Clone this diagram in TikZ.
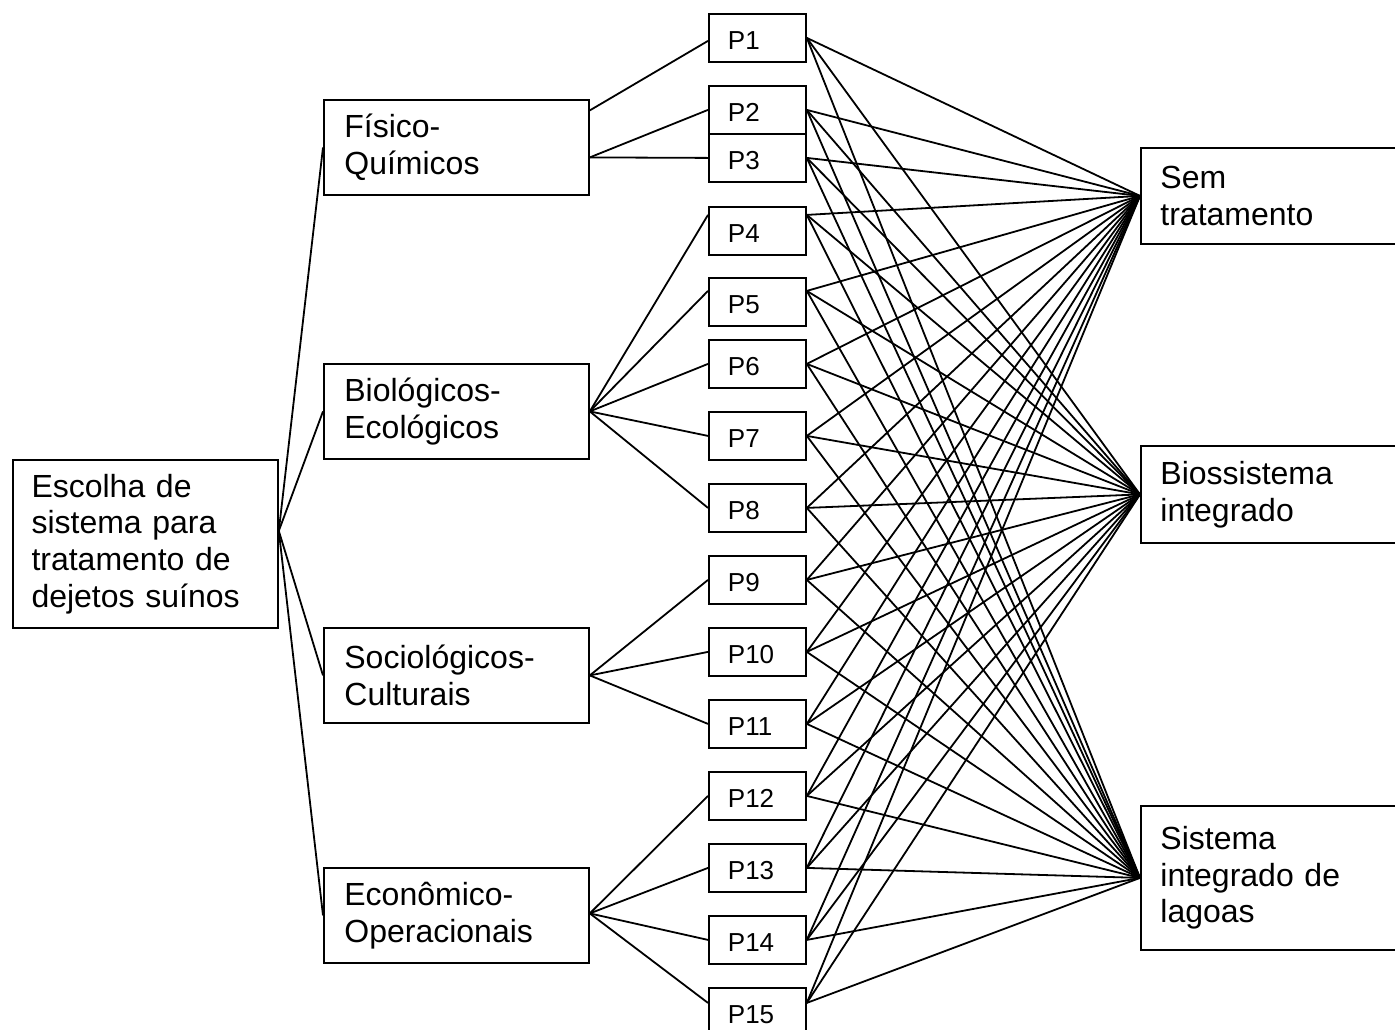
\documentclass[tikz,border=0pt]{standalone}
\usepackage{fontspec}
\setmainfont{Liberation Sans}
\begin{document}
\begin{tikzpicture}[x=1pt,y=-1pt,
  box/.style={draw, line width=1.8pt, rectangle, inner ysep=0pt, align=left, anchor=north west},
  big/.style={box, font=\fontsize{32}{36.7}\selectfont},
  catbox/.style={big, inner xsep=20.5pt, text width=224pt, minimum width=265pt, minimum height=95pt},
  resbox/.style={big, inner xsep=19.5pt, text width=251pt, minimum width=290pt},
  pbox/.style={box, font=\fontsize{26}{30}\selectfont, minimum width=97pt, minimum height=48pt,
    text width=59pt, inner xsep=19pt, text height=22.5pt, text depth=0pt},
  link/.style={line width=1.8pt}]
\useasboundingbox (0,0) rectangle (1395,1029);
\clip (0,0) rectangle (1395,1029);

% root
\node[big, inner xsep=18.6pt, text width=227.8pt, minimum width=265pt, minimum height=168pt]
  (root) at (12,459) {Escolha de\\sistema para\\tratamento de\\dejetos suínos};

% categories
\node[catbox] (fq) at (323,99)  {Físico-\\Químicos};
\node[catbox] (be) at (323,363) {Biológicos-\\Ecológicos};
\node[catbox] (sc) at (323,627) {Sociológicos-\\Culturais};
\node[catbox] (eo) at (323,867) {Econômico-\\Operacionais};

% P boxes
\foreach \i/\y in {1/13,2/85,3/133,4/206,5/277,6/339,7/411,8/483,9/555,10/627,11/699,12/771,13/843,14/915,15/987}
  \node[pbox] (p\i) at (708,\y) {P\i};

% results
\node[resbox, minimum height=96pt]  (st) at (1140,147) {Sem\\tratamento};
\node[resbox, minimum height=97pt]  (bi) at (1140,445) {Biossistema\\integrado};
\node[resbox, minimum height=144pt] (sl) at (1140,805) {Sistema\\integrado de\\lagoas};

% root to categories
\foreach \c in {fq,be,sc,eo}
  \draw[link] ([yshift=13pt]root.east) -- (\c.west);

% categories to P
\draw[link] ([yshift=37pt]fq.east) -- ([yshift=-3pt]p1.west);
\draw[link] ([yshift=-10pt]fq.east) -- (p2.west);
\draw[link] ([yshift=-10pt]fq.east) -- (p3.west);
\foreach \i/\s in {4/16,5/11,6/0,7/0,8/0}
  \draw[link] (be.east) -- ([yshift=\s pt]p\i.west);
\foreach \i in {9,10,11}
  \draw[link] (sc.east) -- (p\i.west);
\foreach \i/\s in {12/0,13/0,14/0,15/9}
  \draw[link] ([yshift=2pt]eo.east) -- ([yshift=\s pt]p\i.west);

% P to results
\foreach \i/\s in {1/0,2/0,3/0,4/16,5/11,6/0,7/0,8/0,9/0,10/0,11/0,12/0,13/0,14/0,15/9}
  \foreach \t in {st,bi,sl}
    \draw[link] ([yshift=\s pt]p\i.east) -- (\t.west);
\end{tikzpicture}
\end{document}
